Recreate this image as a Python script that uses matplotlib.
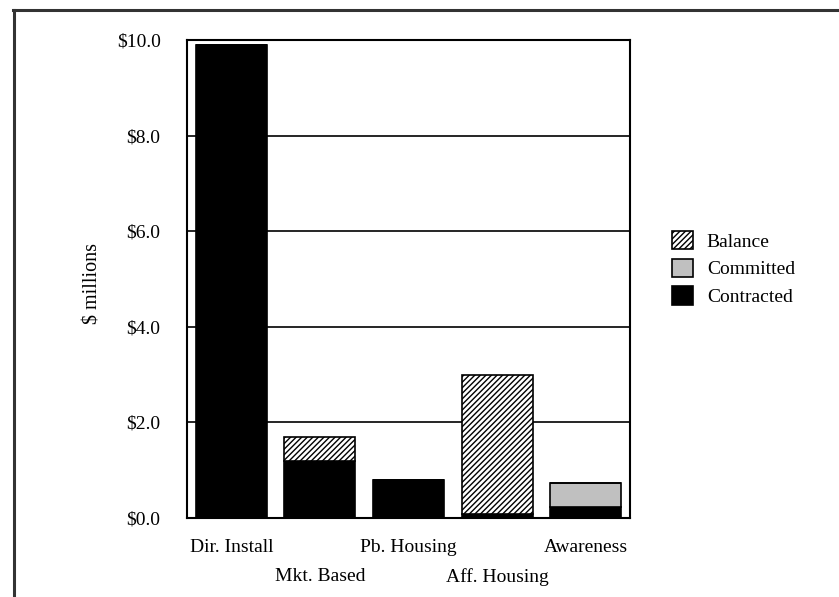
import matplotlib
matplotlib.use("Agg")
import matplotlib.pyplot as plt
from matplotlib.lines import Line2D
from matplotlib.transforms import ScaledTranslation
import numpy as np

categories = ["Dir. Install", "Mkt. Based", "Pb. Housing", "Aff. Housing", "Awareness"]
contracted = [9.9, 1.2, 0.8, 0.08, 0.22]
committed = [0.0, 0.0, 0.0, 0.0, 0.52]
balance = [0.0, 0.5, 0.0, 2.92, 0.0]
y_ticks = [0, 2, 4, 6, 8, 10]

plt.rcParams["font.family"] = ["Liberation Serif", "DejaVu Serif"]
plt.rcParams["hatch.linewidth"] = 1.0

W, H = 839, 597
fig = plt.figure(figsize=(W / 100, H / 100), dpi=100)
ax = fig.add_axes([187 / W, 1 - 518 / H, (630 - 187) / W, (518 - 40) / H])

x = np.arange(len(categories))
bw = 0.8
contracted = np.array(contracted)
committed = np.array(committed)
balance = np.array(balance)

b1 = ax.bar(x, contracted, bw, color="black", edgecolor="black", linewidth=1.2,
            label="Contracted", zorder=3)
b2 = ax.bar(x, committed, bw, bottom=contracted, color="#c0c0c0", edgecolor="black",
            linewidth=1.2, label="Committed", zorder=3)
b3 = ax.bar(x, balance, bw, bottom=contracted + committed, color="white",
            edgecolor="black", hatch="//////", linewidth=1.2, label="Balance", zorder=3)

ax.set_xlim(-0.5, len(categories) - 0.5)
ax.set_ylim(0, 10)
ax.set_yticks(y_ticks)
ax.set_yticklabels([f"${v:.1f}" for v in y_ticks], fontsize=14)
ax.yaxis.grid(True, color="black", linewidth=1.2, zorder=0)
ax.set_axisbelow(True)

ax.set_xticks(x)
ax.set_xticklabels(categories, fontsize=14)
ax.tick_params(axis="both", length=0)
ax.tick_params(axis="x", pad=15)
ax.tick_params(axis="y", pad=19)

# stagger every other category label onto a second row
shift = ScaledTranslation(0, -0.29, fig.dpi_scale_trans)
for i, lab in enumerate(ax.get_xticklabels()):
    if i % 2 == 1:
        lab.set_transform(lab.get_transform() + shift)

for s in ax.spines.values():
    s.set_linewidth(1.5)
    s.set_color("black")

ax.set_ylabel("$ millions", fontsize=14.5)
ax.yaxis.set_label_coords(-0.19, 0.49)

handles = [b3, b2, b1]
leg = ax.legend(handles, ["Balance", "Committed", "Contracted"],
                loc="center left", bbox_to_anchor=(1.055, 0.522),
                frameon=False, fontsize=14, handlelength=1.1, handleheight=1.1,
                handletextpad=0.7, labelspacing=0.4)

# outer frame around the chart region
fig.add_artist(Line2D([13 / W, 1.0], [1 - 10 / H, 1 - 10 / H], transform=fig.transFigure,
                      color="#333333", linewidth=2.2))
fig.add_artist(Line2D([14 / W, 14 / W], [1 - 10 / H, 0.0], transform=fig.transFigure,
                      color="#333333", linewidth=2.2))

fig.savefig("out.png", dpi=100, facecolor="white")
